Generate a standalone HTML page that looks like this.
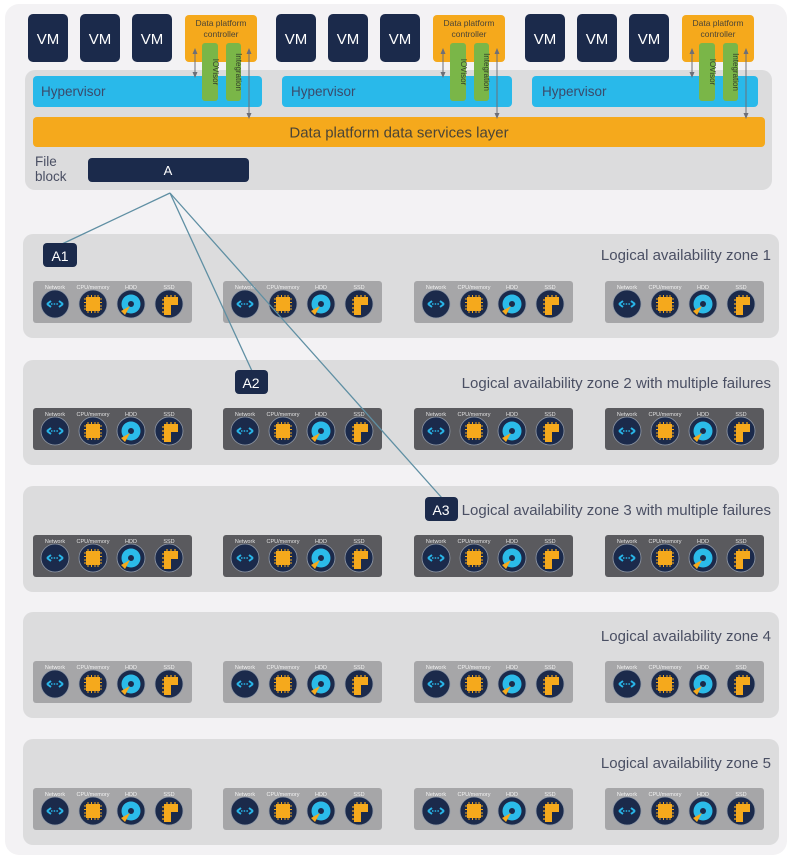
<!DOCTYPE html>
<html><head><meta charset="utf-8"><style>
html,body{margin:0;padding:0;background:#fff;}
svg{display:block;font-family:"Liberation Sans",sans-serif;}
</style></head><body>
<svg width="792" height="860" viewBox="0 0 792 860" xmlns="http://www.w3.org/2000/svg">
<defs>
<marker id="ar" markerWidth="6" markerHeight="6" refX="3" refY="3" orient="auto-start-reverse"><path d="M0,0.5 L6,3 L0,5.5 z" fill="#6d6f78"/></marker>
<g id="inet"><circle r="14" fill="#1b2a4b" stroke="#8f98a6" stroke-width="0.8"/><path d="M-8,0 l4,-3 M-8,0 l4,3 M8,0 l-4,-3 M8,0 l-4,3" stroke="#29b5e8" stroke-width="2" fill="none"/><path d="M-4,0 H4" stroke="#29b5e8" stroke-width="1.5" stroke-dasharray="1.5,1.2"/></g>
<g id="icpu"><circle r="14" fill="#1b2a4b" stroke="#8f98a6" stroke-width="0.8"/><rect x="-7" y="-7" width="14" height="14" fill="#f5a91c"/><path d="M-5,-9 v18 M-1.5,-9 v18 M2,-9 v18 M5,-9 v18 M-9,-5 h18 M-9,-1.5 h18 M-9,2 h18 M-9,5 h18" stroke="#f5a91c" stroke-width="1"/></g>
<g id="ihdd"><circle r="14" fill="#1b2a4b" stroke="#8f98a6" stroke-width="0.8"/><circle r="9.5" fill="#2bbbe9"/><circle r="3" fill="#1b2a4b"/><polygon points="-1,2 -10,7 -6,11" fill="#f5a91c"/></g>
<g id="issd"><circle r="14" fill="#1b2a4b" stroke="#8f98a6" stroke-width="0.8"/><path d="M-5,-7 H9 V1 H2 V11 H-5 Z" fill="#f5a91c"/><path d="M-7,-4h2M-7,0h2M-7,4h2M-7,8h2M-2,-9v2M2,-9v2M6,-9v2" stroke="#f5a91c" stroke-width="1.2"/></g>
</defs>
<rect x="0" y="0" width="792" height="860" fill="#fff"/>
<rect x="5" y="4" width="782" height="851" rx="14" fill="#f3f2f4"/>
<rect x="25" y="70" width="747" height="120" rx="10" fill="#dcdcdd"/>
<g fill="#1b2a4b">
<rect x="28" y="14" width="40" height="48" rx="5"/><rect x="80" y="14" width="40" height="48" rx="5"/><rect x="132" y="14" width="40" height="48" rx="5"/>
<rect x="276" y="14" width="40" height="48" rx="5"/><rect x="328" y="14" width="40" height="48" rx="5"/><rect x="380" y="14" width="40" height="48" rx="5"/>
<rect x="525" y="14" width="40" height="48" rx="5"/><rect x="577" y="14" width="40" height="48" rx="5"/><rect x="629" y="14" width="40" height="48" rx="5"/>
</g>
<g fill="#fff" font-size="15" text-anchor="middle">
<text x="48" y="44">VM</text><text x="100" y="44">VM</text><text x="152" y="44">VM</text>
<text x="296" y="44">VM</text><text x="348" y="44">VM</text><text x="400" y="44">VM</text>
<text x="545" y="44">VM</text><text x="597" y="44">VM</text><text x="649" y="44">VM</text>
</g>
<g fill="#29b9ea">
<rect x="33" y="76" width="229" height="31" rx="4"/><rect x="282" y="76" width="230" height="31" rx="4"/><rect x="532" y="76" width="226" height="31" rx="4"/>
</g>
<g fill="#3a4a6b" font-size="13.5"><text x="41" y="96">Hypervisor</text><text x="291" y="96">Hypervisor</text><text x="542" y="96">Hypervisor</text></g>
<rect x="33" y="117" width="732" height="30" rx="4" fill="#f5a91c"/>
<text x="399" y="137.5" font-size="15" fill="#4a4436" text-anchor="middle">Data platform data services layer</text>
<g>
<rect x="185" y="15" width="72" height="47" rx="4" fill="#f5a91c"/>
<text x="221" y="26" font-size="8.5" fill="#4a4436" text-anchor="middle">Data platform</text>
<text x="221" y="37" font-size="8.5" fill="#4a4436" text-anchor="middle">controller</text>
<rect x="202" y="43" width="16" height="58" rx="3" fill="#7ab648"/>
<rect x="226" y="43" width="15" height="58" rx="3" fill="#7ab648"/>
<text transform="translate(213,72) rotate(90)" font-size="8" fill="#33402a" text-anchor="middle">IOVisor</text>
<text transform="translate(236,72) rotate(90)" font-size="8" fill="#33402a" text-anchor="middle">Integration</text>
<line x1="195" y1="51" x2="195" y2="75" stroke="#6d6f78" stroke-width="1" marker-start="url(#ar)" marker-end="url(#ar)"/>
<line x1="249" y1="51" x2="249" y2="116" stroke="#6d6f78" stroke-width="1" marker-start="url(#ar)" marker-end="url(#ar)"/>
</g>
<g transform="translate(248,0)">
<rect x="185" y="15" width="72" height="47" rx="4" fill="#f5a91c"/>
<text x="221" y="26" font-size="8.5" fill="#4a4436" text-anchor="middle">Data platform</text>
<text x="221" y="37" font-size="8.5" fill="#4a4436" text-anchor="middle">controller</text>
<rect x="202" y="43" width="16" height="58" rx="3" fill="#7ab648"/>
<rect x="226" y="43" width="15" height="58" rx="3" fill="#7ab648"/>
<text transform="translate(213,72) rotate(90)" font-size="8" fill="#33402a" text-anchor="middle">IOVisor</text>
<text transform="translate(236,72) rotate(90)" font-size="8" fill="#33402a" text-anchor="middle">Integration</text>
<line x1="195" y1="51" x2="195" y2="75" stroke="#6d6f78" stroke-width="1" marker-start="url(#ar)" marker-end="url(#ar)"/>
<line x1="249" y1="51" x2="249" y2="116" stroke="#6d6f78" stroke-width="1" marker-start="url(#ar)" marker-end="url(#ar)"/>
</g>
<g transform="translate(497,0)">
<rect x="185" y="15" width="72" height="47" rx="4" fill="#f5a91c"/>
<text x="221" y="26" font-size="8.5" fill="#4a4436" text-anchor="middle">Data platform</text>
<text x="221" y="37" font-size="8.5" fill="#4a4436" text-anchor="middle">controller</text>
<rect x="202" y="43" width="16" height="58" rx="3" fill="#7ab648"/>
<rect x="226" y="43" width="15" height="58" rx="3" fill="#7ab648"/>
<text transform="translate(213,72) rotate(90)" font-size="8" fill="#33402a" text-anchor="middle">IOVisor</text>
<text transform="translate(236,72) rotate(90)" font-size="8" fill="#33402a" text-anchor="middle">Integration</text>
<line x1="195" y1="51" x2="195" y2="75" stroke="#6d6f78" stroke-width="1" marker-start="url(#ar)" marker-end="url(#ar)"/>
<line x1="249" y1="51" x2="249" y2="116" stroke="#6d6f78" stroke-width="1" marker-start="url(#ar)" marker-end="url(#ar)"/>
</g>
<text x="35" y="166" font-size="13.5" fill="#4a4f63">File</text>
<text x="35" y="181" font-size="13.5" fill="#4a4f63">block</text>
<rect x="88" y="158" width="161" height="24" rx="4" fill="#1b2a4b"/>
<text x="168" y="175" font-size="13" fill="#fff" text-anchor="middle">A</text>

<g fill="#dcdcdd">
<rect x="23" y="234" width="756" height="104" rx="10"/>
<rect x="23" y="360" width="756" height="105" rx="10"/>
<rect x="23" y="486" width="756" height="106" rx="10"/>
<rect x="23" y="612" width="756" height="106" rx="10"/>
<rect x="23" y="739" width="756" height="106" rx="10"/>
</g>
<g font-size="15" fill="#4a4f63" text-anchor="end">
<text x="771" y="260">Logical availability zone 1</text>
<text x="771" y="388">Logical availability zone 2 with multiple failures</text>
<text x="771" y="515">Logical availability zone 3 with multiple failures</text>
<text x="771" y="641">Logical availability zone 4</text>
<text x="771" y="768">Logical availability zone 5</text>
</g>
<g font-size="5.5" text-anchor="middle">
<g transform="translate(33,281)" fill="#f2f2f2"><rect width="159" height="42" rx="3" fill="#a6a6a8"/><text x="22" y="8">Network</text><text x="60" y="8">CPU/memory</text><text x="98" y="8">HDD</text><text x="136" y="8">SSD</text><use href="#inet" x="22" y="23"/><use href="#icpu" x="60" y="23"/><use href="#ihdd" x="98" y="23"/><use href="#issd" x="136" y="23"/></g>
<g transform="translate(223,281)" fill="#f2f2f2"><rect width="159" height="42" rx="3" fill="#a6a6a8"/><text x="22" y="8">Network</text><text x="60" y="8">CPU/memory</text><text x="98" y="8">HDD</text><text x="136" y="8">SSD</text><use href="#inet" x="22" y="23"/><use href="#icpu" x="60" y="23"/><use href="#ihdd" x="98" y="23"/><use href="#issd" x="136" y="23"/></g>
<g transform="translate(414,281)" fill="#f2f2f2"><rect width="159" height="42" rx="3" fill="#a6a6a8"/><text x="22" y="8">Network</text><text x="60" y="8">CPU/memory</text><text x="98" y="8">HDD</text><text x="136" y="8">SSD</text><use href="#inet" x="22" y="23"/><use href="#icpu" x="60" y="23"/><use href="#ihdd" x="98" y="23"/><use href="#issd" x="136" y="23"/></g>
<g transform="translate(605,281)" fill="#f2f2f2"><rect width="159" height="42" rx="3" fill="#a6a6a8"/><text x="22" y="8">Network</text><text x="60" y="8">CPU/memory</text><text x="98" y="8">HDD</text><text x="136" y="8">SSD</text><use href="#inet" x="22" y="23"/><use href="#icpu" x="60" y="23"/><use href="#ihdd" x="98" y="23"/><use href="#issd" x="136" y="23"/></g>
<g transform="translate(33,408)" fill="#e0e0e0"><rect width="159" height="42" rx="3" fill="#5a5a5e"/><text x="22" y="8">Network</text><text x="60" y="8">CPU/memory</text><text x="98" y="8">HDD</text><text x="136" y="8">SSD</text><use href="#inet" x="22" y="23"/><use href="#icpu" x="60" y="23"/><use href="#ihdd" x="98" y="23"/><use href="#issd" x="136" y="23"/></g>
<g transform="translate(223,408)" fill="#e0e0e0"><rect width="159" height="42" rx="3" fill="#5a5a5e"/><text x="22" y="8">Network</text><text x="60" y="8">CPU/memory</text><text x="98" y="8">HDD</text><text x="136" y="8">SSD</text><use href="#inet" x="22" y="23"/><use href="#icpu" x="60" y="23"/><use href="#ihdd" x="98" y="23"/><use href="#issd" x="136" y="23"/></g>
<g transform="translate(414,408)" fill="#e0e0e0"><rect width="159" height="42" rx="3" fill="#5a5a5e"/><text x="22" y="8">Network</text><text x="60" y="8">CPU/memory</text><text x="98" y="8">HDD</text><text x="136" y="8">SSD</text><use href="#inet" x="22" y="23"/><use href="#icpu" x="60" y="23"/><use href="#ihdd" x="98" y="23"/><use href="#issd" x="136" y="23"/></g>
<g transform="translate(605,408)" fill="#e0e0e0"><rect width="159" height="42" rx="3" fill="#5a5a5e"/><text x="22" y="8">Network</text><text x="60" y="8">CPU/memory</text><text x="98" y="8">HDD</text><text x="136" y="8">SSD</text><use href="#inet" x="22" y="23"/><use href="#icpu" x="60" y="23"/><use href="#ihdd" x="98" y="23"/><use href="#issd" x="136" y="23"/></g>
<g transform="translate(33,535)" fill="#e0e0e0"><rect width="159" height="42" rx="3" fill="#5a5a5e"/><text x="22" y="8">Network</text><text x="60" y="8">CPU/memory</text><text x="98" y="8">HDD</text><text x="136" y="8">SSD</text><use href="#inet" x="22" y="23"/><use href="#icpu" x="60" y="23"/><use href="#ihdd" x="98" y="23"/><use href="#issd" x="136" y="23"/></g>
<g transform="translate(223,535)" fill="#e0e0e0"><rect width="159" height="42" rx="3" fill="#5a5a5e"/><text x="22" y="8">Network</text><text x="60" y="8">CPU/memory</text><text x="98" y="8">HDD</text><text x="136" y="8">SSD</text><use href="#inet" x="22" y="23"/><use href="#icpu" x="60" y="23"/><use href="#ihdd" x="98" y="23"/><use href="#issd" x="136" y="23"/></g>
<g transform="translate(414,535)" fill="#e0e0e0"><rect width="159" height="42" rx="3" fill="#5a5a5e"/><text x="22" y="8">Network</text><text x="60" y="8">CPU/memory</text><text x="98" y="8">HDD</text><text x="136" y="8">SSD</text><use href="#inet" x="22" y="23"/><use href="#icpu" x="60" y="23"/><use href="#ihdd" x="98" y="23"/><use href="#issd" x="136" y="23"/></g>
<g transform="translate(605,535)" fill="#e0e0e0"><rect width="159" height="42" rx="3" fill="#5a5a5e"/><text x="22" y="8">Network</text><text x="60" y="8">CPU/memory</text><text x="98" y="8">HDD</text><text x="136" y="8">SSD</text><use href="#inet" x="22" y="23"/><use href="#icpu" x="60" y="23"/><use href="#ihdd" x="98" y="23"/><use href="#issd" x="136" y="23"/></g>
<g transform="translate(33,661)" fill="#f2f2f2"><rect width="159" height="42" rx="3" fill="#a6a6a8"/><text x="22" y="8">Network</text><text x="60" y="8">CPU/memory</text><text x="98" y="8">HDD</text><text x="136" y="8">SSD</text><use href="#inet" x="22" y="23"/><use href="#icpu" x="60" y="23"/><use href="#ihdd" x="98" y="23"/><use href="#issd" x="136" y="23"/></g>
<g transform="translate(223,661)" fill="#f2f2f2"><rect width="159" height="42" rx="3" fill="#a6a6a8"/><text x="22" y="8">Network</text><text x="60" y="8">CPU/memory</text><text x="98" y="8">HDD</text><text x="136" y="8">SSD</text><use href="#inet" x="22" y="23"/><use href="#icpu" x="60" y="23"/><use href="#ihdd" x="98" y="23"/><use href="#issd" x="136" y="23"/></g>
<g transform="translate(414,661)" fill="#f2f2f2"><rect width="159" height="42" rx="3" fill="#a6a6a8"/><text x="22" y="8">Network</text><text x="60" y="8">CPU/memory</text><text x="98" y="8">HDD</text><text x="136" y="8">SSD</text><use href="#inet" x="22" y="23"/><use href="#icpu" x="60" y="23"/><use href="#ihdd" x="98" y="23"/><use href="#issd" x="136" y="23"/></g>
<g transform="translate(605,661)" fill="#f2f2f2"><rect width="159" height="42" rx="3" fill="#a6a6a8"/><text x="22" y="8">Network</text><text x="60" y="8">CPU/memory</text><text x="98" y="8">HDD</text><text x="136" y="8">SSD</text><use href="#inet" x="22" y="23"/><use href="#icpu" x="60" y="23"/><use href="#ihdd" x="98" y="23"/><use href="#issd" x="136" y="23"/></g>
<g transform="translate(33,788)" fill="#f2f2f2"><rect width="159" height="42" rx="3" fill="#a6a6a8"/><text x="22" y="8">Network</text><text x="60" y="8">CPU/memory</text><text x="98" y="8">HDD</text><text x="136" y="8">SSD</text><use href="#inet" x="22" y="23"/><use href="#icpu" x="60" y="23"/><use href="#ihdd" x="98" y="23"/><use href="#issd" x="136" y="23"/></g>
<g transform="translate(223,788)" fill="#f2f2f2"><rect width="159" height="42" rx="3" fill="#a6a6a8"/><text x="22" y="8">Network</text><text x="60" y="8">CPU/memory</text><text x="98" y="8">HDD</text><text x="136" y="8">SSD</text><use href="#inet" x="22" y="23"/><use href="#icpu" x="60" y="23"/><use href="#ihdd" x="98" y="23"/><use href="#issd" x="136" y="23"/></g>
<g transform="translate(414,788)" fill="#f2f2f2"><rect width="159" height="42" rx="3" fill="#a6a6a8"/><text x="22" y="8">Network</text><text x="60" y="8">CPU/memory</text><text x="98" y="8">HDD</text><text x="136" y="8">SSD</text><use href="#inet" x="22" y="23"/><use href="#icpu" x="60" y="23"/><use href="#ihdd" x="98" y="23"/><use href="#issd" x="136" y="23"/></g>
<g transform="translate(605,788)" fill="#f2f2f2"><rect width="159" height="42" rx="3" fill="#a6a6a8"/><text x="22" y="8">Network</text><text x="60" y="8">CPU/memory</text><text x="98" y="8">HDD</text><text x="136" y="8">SSD</text><use href="#inet" x="22" y="23"/><use href="#icpu" x="60" y="23"/><use href="#ihdd" x="98" y="23"/><use href="#issd" x="136" y="23"/></g>
</g>
<g stroke="#5f8fa3" stroke-width="1.3" fill="none">
<line x1="170" y1="193" x2="62" y2="244"/>
<line x1="170" y1="193" x2="252" y2="371"/>
<line x1="170" y1="193" x2="442" y2="498"/>
</g>
<rect x="43" y="243" width="34" height="24" rx="4" fill="#1b2a4b"/>
<text x="60" y="261" font-size="14" fill="#fff" text-anchor="middle">A1</text>
<rect x="235" y="370" width="33" height="24" rx="4" fill="#1b2a4b"/>
<text x="251" y="388" font-size="14" fill="#fff" text-anchor="middle">A2</text>
<rect x="425" y="497" width="33" height="24" rx="4" fill="#1b2a4b"/>
<text x="441" y="515" font-size="14" fill="#fff" text-anchor="middle">A3</text>
</svg>
</body></html>
